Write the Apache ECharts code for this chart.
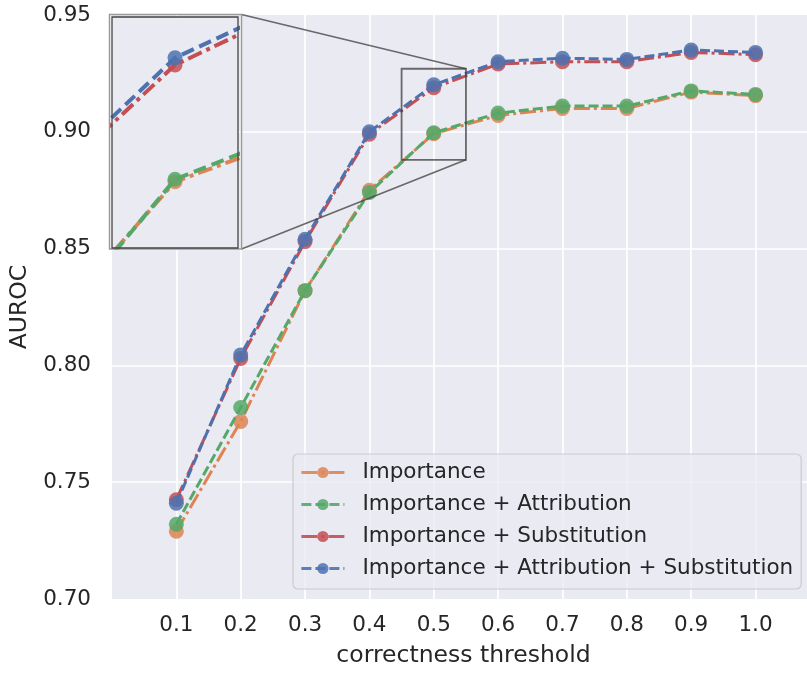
<!DOCTYPE html>
<html>
<head>
<meta charset="utf-8">
<script src="https://cdn.jsdelivr.net/npm/echarts@6/dist/echarts.min.js"></script>
<style>
html,body{margin:0;padding:0;background:#fff;}
#chart{width:807px;height:673px;}
</style>
</head>
<body>
<div id="chart"></div>
<script>
var thresholds = [0.1, 0.2, 0.3, 0.4, 0.5, 0.6, 0.7, 0.8, 0.9, 1.0];
var importance = [0.729, 0.776, 0.832, 0.875, 0.8992, 0.907, 0.910, 0.910, 0.917, 0.9155];
var importanceAttr = [0.732, 0.782, 0.832, 0.874, 0.8996, 0.908, 0.911, 0.911, 0.9175, 0.916];
var importanceSub = [0.7425, 0.803, 0.853, 0.899, 0.9189, 0.929, 0.930, 0.930, 0.934, 0.933];
var importanceAttrSub = [0.741, 0.8045, 0.854, 0.900, 0.9201, 0.930, 0.9315, 0.931, 0.935, 0.934];
var seriesNames = ['Importance', 'Importance + Attribution', 'Importance + Substitution', 'Importance + Attribution + Substitution'];
var seriesColors = ['#DD8452', '#55A868', '#C44E52', '#4C72B0'];
var yTicks = [0.70, 0.75, 0.80, 0.85, 0.90, 0.95];

var dashDot = [16, 4, 3, 4];
var dashed = [10, 4];
var dashDotInset = [15, 5, 4, 5];
var dashedInset = [13, 6];
var seriesData = [importance, importanceAttr, importanceSub, importanceAttrSub];
var seriesDash = [dashDot, dashed, dashDot, dashed];
var seriesDashInset = [dashDotInset, dashedInset, dashDotInset, dashedInset];

function pairs(arr) { return thresholds.map(function (t, i) { return [t, arr[i]]; }); }

var FONT = 'DejaVu Sans';
var TICK = 21.5, LABEL = 23.5;
var series = [];
[0, 1].forEach(function (g) {
  seriesData.forEach(function (d, i) {
    series.push({
      name: seriesNames[i],
      type: 'line',
      xAxisIndex: g, yAxisIndex: g,
      data: pairs(d),
      symbol: 'circle',
      symbolSize: 15,
      clip: true,
      z: g === 0 ? 2 + i : 25 + i,
      itemStyle: { color: seriesColors[i], opacity: 0.85 },
      lineStyle: { color: seriesColors[i], width: g === 0 ? 3 : 4, type: g === 0 ? seriesDash[i] : seriesDashInset[i] },
      emphasis: { disabled: true },
      animation: false
    });
  });
});

var legendData = seriesNames.map(function (n, i) {
  return { name: n, lineStyle: { color: seriesColors[i], width: 2.8, type: seriesDash[i], opacity: 0.9 }, itemStyle: { color: seriesColors[i], opacity: 0.85 } };
});

var chart = echarts.init(document.getElementById('chart'), null, { renderer: 'canvas' });
var option = {
  animation: false,
  backgroundColor: '#ffffff',
  textStyle: { fontFamily: FONT },
  grid: [
    { left: 112, right: 0, top: 15, bottom: 73, show: true, backgroundColor: '#EAEAF2', borderWidth: 0 },
    { left: 112, top: 17, width: 126, height: 231, show: true, backgroundColor: '#EAEAF2', borderWidth: 0, z: 20 }
  ],
  xAxis: [
    {
      type: 'value', gridIndex: 0, min: 0, max: 1.08, interval: 0.1,
      name: 'correctness threshold', nameLocation: 'middle', nameGap: 45,
      nameTextStyle: { fontSize: LABEL, color: '#262626', fontFamily: FONT, padding: [0, 0, 0, 8] },
      axisLine: { show: false }, axisTick: { show: false },
      axisLabel: {
        fontSize: TICK, color: '#262626', fontFamily: FONT, margin: 15,
        showMinLabel: false, showMaxLabel: false,
        formatter: function (v) { if (v < 0.05 || v > 1.05) return ''; return v.toFixed(1); }
      },
      splitLine: { show: true, showMinLine: false, showMaxLine: false, lineStyle: { color: '#ffffff', width: 1.7 } }
    },
    {
      type: 'value', gridIndex: 1, min: 0.45, max: 0.55,
      axisLine: { show: false }, axisTick: { show: false }, axisLabel: { show: false }, splitLine: { show: false }
    }
  ],
  yAxis: [
    {
      type: 'value', gridIndex: 0, min: yTicks[0], max: yTicks[yTicks.length - 1], interval: 0.05,
      name: 'AUROC', nameLocation: 'middle', nameGap: 77, nameRotate: 90,
      nameTextStyle: { fontSize: LABEL, color: '#262626', fontFamily: FONT },
      axisLine: { show: false }, axisTick: { show: false },
      axisLabel: { fontSize: TICK, color: '#262626', fontFamily: FONT, margin: 21, formatter: function (v) { return v.toFixed(2); } },
      splitLine: { show: true, showMinLine: false, showMaxLine: false, lineStyle: { color: '#ffffff', width: 1.7 } }
    },
    {
      type: 'value', gridIndex: 1, min: 0.888, max: 0.927,
      axisLine: { show: false }, axisTick: { show: false }, axisLabel: { show: false }, splitLine: { show: false }
    }
  ],
  legend: {
    data: legendData,
    orient: 'vertical',
    left: 293, top: 454,
    padding: [7, 8, 9, 7],
    itemWidth: 43, itemHeight: 14, itemGap: 9,
    backgroundColor: 'rgba(234,234,242,0.8)',
    borderColor: '#CCCCCC', borderWidth: 1.2, borderRadius: 5,
    textStyle: { fontSize: TICK, color: '#262626', fontFamily: FONT, padding: [0, 0, 0, 13], lineHeight: 23 },
    selectedMode: false,
    z: 30
  },
  series: series
};
chart.setOption(option);

var tl = chart.convertToPixel({ gridIndex: 0 }, [0.45, 0.927]);
var br = chart.convertToPixel({ gridIndex: 0 }, [0.55, 0.888]);
var insetRect = chart.getModel().getComponent('grid', 1).coordinateSystem.getRect();
var ox1 = insetRect.x - 2.5, oy1 = insetRect.y - 2.5, ox2 = insetRect.x + insetRect.width + 3.5, oy2 = insetRect.y + insetRect.height + 1;
chart.setOption({
  graphic: [
    { type: 'rect', shape: { x: tl[0], y: tl[1], width: br[0] - tl[0], height: br[1] - tl[1] }, style: { fill: 'none', stroke: 'rgba(60,60,60,0.75)', lineWidth: 1.8 }, z: 15 },
    { type: 'line', shape: { x1: ox2, y1: oy1, x2: br[0], y2: tl[1] }, style: { stroke: 'rgba(60,60,60,0.75)', lineWidth: 1.6 }, z: 15 },
    { type: 'line', shape: { x1: ox2, y1: oy2, x2: br[0], y2: br[1] }, style: { stroke: 'rgba(60,60,60,0.75)', lineWidth: 1.6 }, z: 15 },
    { type: 'rect', shape: { x: ox1, y: oy1, width: ox2 - ox1, height: oy2 - oy1 }, style: { fill: 'none', stroke: '#9a9a9a', lineWidth: 1.5 }, z: 40 },
    { type: 'rect', shape: { x: insetRect.x, y: insetRect.y, width: insetRect.width, height: insetRect.height }, style: { fill: 'none', stroke: '#444444', lineWidth: 1.3 }, z: 40 }
  ]
});
</script>
</body>
</html>
